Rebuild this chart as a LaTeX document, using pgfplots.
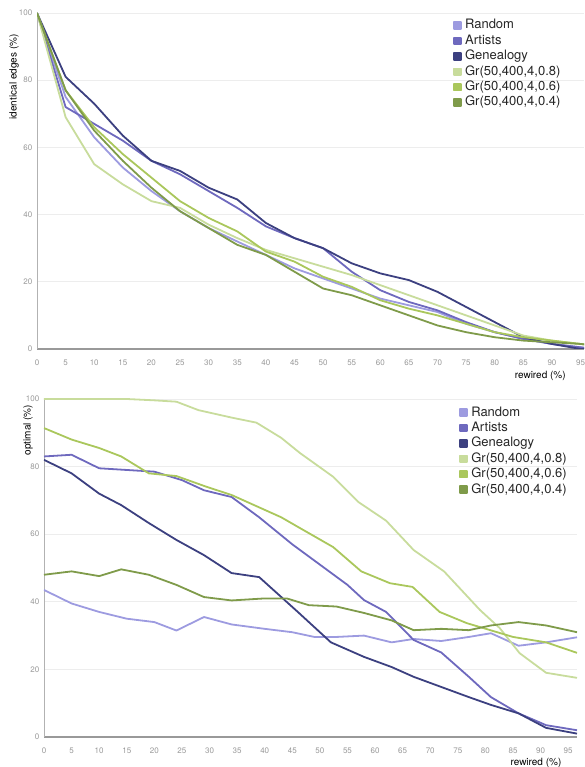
\documentclass[border=0pt]{standalone}
\usepackage{fontspec}
\setmainfont{TeX Gyre Heros}
\usepackage{pgfplots}
\pgfplotsset{compat=1.18}
\usepackage{pgfplotstable}
\definecolor{crand}{HTML}{9D9BE0}
\definecolor{cart}{HTML}{6E69BE}
\definecolor{cgen}{HTML}{3C4080}
\definecolor{cg08}{HTML}{C8DC9C}
\definecolor{cg06}{HTML}{AAC75C}
\definecolor{cg04}{HTML}{7F9B4A}

\pgfplotstableread{
x    rand  art   gen   g08   g06   g04
0    100   100   100   100   100   100
5    75    72    81    69    77    77
10   63    67    73    55    66    65
15   54    62    63.5  49    58    56
20   47    56    56    44    51    48
25   41    52    53    42    44    41
30   36    47    48    37    39    36
35   32    42    44.5  33    35    31
40   28    36.5  37.5  29.5  29    28
45   24    33    33    27    26    23
50   21    30    30    24.5  21.5  18
55   18    23    25.5  22    18.5  16
60   15    17.5  22.5  19    14.5  13
65   13    14    20.5  16    12    10
70   11    11.5  17    13    10    7
75   7.5   8     12.5  10    7.5   5
80   5     5     8     7     5     3.5
85   3     3     3.5   4     3.5   2.5
90   1.5   1.5   1.5   2.5   2.5   2
95   0.5   0.5   0     1.5   1.5   1.5
96   0.3   0.3   0     1.3   1.3   1.3
}\toptable

\pgfplotsset{
  myax/.style={
    scale only axis,
    axis x line=bottom, axis y line=left,
    axis line style={-},
    x axis line style={draw=black!40, line width=1.5pt},
    y axis line style={draw=black!30, line width=0.8pt},
    xmin=0, ymin=0, ymax=100,
    xtick={0,5,...,95}, ytick={0,20,...,100},
    major tick length=0pt,
    ymajorgrids,
    grid style={draw=black!7, line width=0.7pt},
    /pgf/number format/assume math mode=true,
    tick label style={font=\fontsize{8}{9}\selectfont, text=black!40},
    xticklabel style={anchor=center, yshift=-13.5pt, inner sep=0pt},
    yticklabel style={anchor=east, xshift=-4.5pt, inner sep=0pt},
    label style={font=\fontsize{9.5}{11}\selectfont, text=black!45},
    every axis plot/.append style={line width=1.8pt, mark=none, line join=round},
    legend image code/.code={\fill[##1] (0pt,-3.3pt) rectangle (6.6pt,3.3pt);},
    legend style={draw=none, fill=none, inner sep=0pt, row sep=3.4pt, column sep=3.5pt,
      anchor=north west, cells={anchor=west},
      font=\fontsize{13}{15}\selectfont, text=black!85,
      nodes={inner sep=0pt, text height=9.4pt, text depth=2.6pt}},
  }
}

\begin{document}
\begin{tikzpicture}
\path[use as bounding box] (0,0) rectangle (584pt,767pt);

\begin{axis}[myax,
  at={(37pt,418pt)}, anchor=south west,
  width=547pt, height=336pt,
  xmax=95.6,
  xlabel={rewired (\%)}, ylabel={identical edges (\%)},
  every axis x label/.style={at={(rel axis cs:0.92,-0.080)}, anchor=center},
  every axis y label/.style={at={(rel axis cs:-0.042,0.81)}, rotate=90, anchor=center},
  legend style={at={(rel axis cs:0.7605,0.981)}},
]
\addplot[color=crand] table[x=x,y=rand] {\toptable}; \addlegendentry{Random}
\addplot[color=cart] table[x=x,y=art] {\toptable}; \addlegendentry{Artists}
\addplot[color=cgen] table[x=x,y=gen] {\toptable}; \addlegendentry{Genealogy}
\addplot[color=cg08] table[x=x,y=g08] {\toptable}; \addlegendentry{Gr(50,400,4,0.8)}
\addplot[color=cg06] table[x=x,y=g06] {\toptable}; \addlegendentry{Gr(50,400,4,0.6)}
\addplot[color=cg04] table[x=x,y=g04] {\toptable}; \addlegendentry{Gr(50,400,4,0.4)}
\end{axis}

\begin{axis}[myax,
  at={(44pt,30pt)}, anchor=south west,
  width=533pt, height=338pt,
  xmax=96.6,
  xlabel={rewired (\%)}, ylabel={optimal (\%)},
  every axis x label/.style={at={(rel axis cs:0.923,-0.077)}, anchor=center},
  every axis y label/.style={at={(rel axis cs:-0.030,0.908)}, rotate=90, anchor=center},
  legend style={at={(rel axis cs:0.779,0.978)}},
]
\addplot[color=crand] coordinates {(0,43.5)(5,39.5)(10,37)(15,35)(20,34)(24,31.5)(29,35.5)(34,33.3)(40,32)(45,31)(49,29.6)(53,29.6)(58,30)(63,28)(67,29)(72,28.4)(77,29.6)(81,30.7)(86,27)(91,28)(96.6,29.5)};
\addlegendentry{Random}
\addplot[color=cart] coordinates {(0,83)(5,83.5)(10,79.5)(15,79)(20,78.5)(25,76)(29,73)(34,71)(39,65)(45,57)(50,51)(55,45)(58,40.5)(62,37)(67,28.7)(72,25)(77,17.8)(81,11.8)(86,7)(91,3.5)(96.6,2)};
\addlegendentry{Artists}
\addplot[color=cgen] coordinates {(0,82)(5,78)(10,72)(14,68.6)(19,63.3)(24,58.3)(29,53.8)(34,48.5)(39,47.3)(46,37)(52,28)(58,23.7)(63,20.7)(67,17.8)(72,14.8)(77,11.8)(81,9.5)(86,7)(91,2.7)(96.6,1)};
\addlegendentry{Genealogy}
\addplot[color=cg08] coordinates {(0,100)(5,100)(10,100)(15,100)(20,99.6)(24,99.2)(28,96.7)(34,94.5)(38.5,93)(43,88.5)(46.4,84)(52.4,77)(57,69.5)(62,64)(67,55.3)(72.5,49)(79,37.6)(82.6,32.2)(86.2,24.8)(91,19)(96.6,17.5)};
\addlegendentry{Gr(50,400,4,0.8)}
\addplot[color=cg06] coordinates {(0,91.4)(5,88)(10,85.5)(14,83)(19,78)(24,77.2)(29.5,74)(34,71.6)(43,65)(46.4,61.8)(52.4,56.2)(57.5,49)(62.7,45.5)(66.8,44.4)(71.7,37)(76.6,33.7)(85,29.6)(91,28)(96.6,24.9)};
\addlegendentry{Gr(50,400,4,0.6)}
\addplot[color=cg04] coordinates {(0,48)(5,49)(10,47.6)(14,49.6)(19,48)(24,45)(29,41.4)(34,40.4)(40,41)(44,41)(48,39)(53,38.6)(58,36.7)(63,34.5)(67,31.6)(72,32)(77,31.6)(81,33)(86,34)(91,33)(96.6,31)};
\addlegendentry{Gr(50,400,4,0.4)}
\end{axis}
\end{tikzpicture}
\end{document}
